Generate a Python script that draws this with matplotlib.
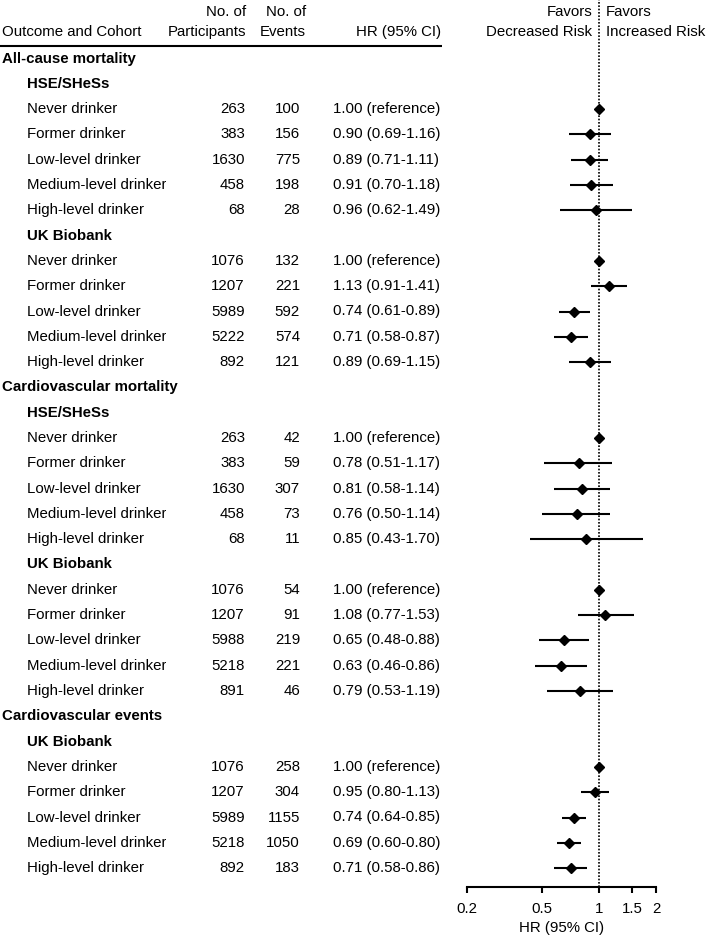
import numpy as np
import matplotlib
matplotlib.use("Agg")
import matplotlib.pyplot as plt
from matplotlib.transforms import Bbox

plt.rcParams["font.family"] = ["Liberation Sans", "DejaVu Sans"]

# rows: (label, kind) kind: 0 = outcome heading, 1 = cohort heading, 2 = data row
labels = ["All-cause mortality", "HSE/SHeSs",
          "Never drinker", "Former drinker", "Low-level drinker", "Medium-level drinker", "High-level drinker",
          "UK Biobank",
          "Never drinker", "Former drinker", "Low-level drinker", "Medium-level drinker", "High-level drinker",
          "Cardiovascular mortality", "HSE/SHeSs",
          "Never drinker", "Former drinker", "Low-level drinker", "Medium-level drinker", "High-level drinker",
          "UK Biobank",
          "Never drinker", "Former drinker", "Low-level drinker", "Medium-level drinker", "High-level drinker",
          "Cardiovascular events", "UK Biobank",
          "Never drinker", "Former drinker", "Low-level drinker", "Medium-level drinker", "High-level drinker"]
kinds = [0, 1, 2, 2, 2, 2, 2, 1, 2, 2, 2, 2, 2,
         0, 1, 2, 2, 2, 2, 2, 1, 2, 2, 2, 2, 2,
         0, 1, 2, 2, 2, 2, 2]

participants = [263, 383, 1630, 458, 68, 1076, 1207, 5989, 5222, 892,
                263, 383, 1630, 458, 68, 1076, 1207, 5988, 5218, 891,
                1076, 1207, 5989, 5218, 892]
events = [100, 156, 775, 198, 28, 132, 221, 592, 574, 121,
          42, 59, 307, 73, 11, 54, 91, 219, 221, 46,
          258, 304, 1155, 1050, 183]
hr = [1.00, 0.90, 0.89, 0.91, 0.96, 1.00, 1.13, 0.74, 0.71, 0.89,
      1.00, 0.78, 0.81, 0.76, 0.85, 1.00, 1.08, 0.65, 0.63, 0.79,
      1.00, 0.95, 0.74, 0.69, 0.71]
lo = [None, 0.69, 0.71, 0.70, 0.62, None, 0.91, 0.61, 0.58, 0.69,
      None, 0.51, 0.58, 0.50, 0.43, None, 0.77, 0.48, 0.46, 0.53,
      None, 0.80, 0.64, 0.60, 0.58]
hi = [None, 1.16, 1.11, 1.18, 1.49, None, 1.41, 0.89, 0.87, 1.15,
      None, 1.17, 1.14, 1.14, 1.70, None, 1.53, 0.88, 0.86, 1.19,
      None, 1.13, 0.85, 0.80, 0.86]

xticks = [0.2, 0.5, 1, 1.5, 2]

W, H = 709, 942
fig = plt.figure(figsize=(W / 100, H / 100), dpi=100)
fs = 10.8

# text layer in pixel coordinates
ax_t = fig.add_axes([0, 0, 1, 1])
ax_t.set_xlim(0, W)
ax_t.set_ylim(H, 0)
ax_t.axis("off")

y0, dy = 58.5, 25.3
axis_y = 887

# header
ax_t.text(2, 32, "Outcome and Cohort", fontsize=fs, va="center", ha="left")
ax_t.text(246, 12, "No. of", fontsize=fs, va="center", ha="right")
ax_t.text(246, 32, "Participants", fontsize=fs, va="center", ha="right")
ax_t.text(306, 12, "No. of", fontsize=fs, va="center", ha="right")
ax_t.text(306, 32, "Events", fontsize=fs, va="center", ha="right")
ax_t.text(441, 32, "HR (95% CI)", fontsize=fs, va="center", ha="right")
ax_t.text(592, 12, "Favors", fontsize=fs, va="center", ha="right")
ax_t.text(592, 32, "Decreased Risk", fontsize=fs, va="center", ha="right")
ax_t.text(606, 12, "Favors", fontsize=fs, va="center", ha="left")
ax_t.text(606, 32, "Increased Risk", fontsize=fs, va="center", ha="left")
ax_t.plot([0, 442], [45.5, 45.5], color="black", lw=1.5, solid_capstyle="butt")

# label column is cut off like in the source table (display pixels)
clip = Bbox([[0, 0], [166, H]])

# forest axes
ax = fig.add_axes([467 / W, (H - axis_y) / H, (656 - 467) / W, axis_y / H])
ax.set_xscale("log")
ax.set_xlim(0.2, 2)
ax.set_ylim(axis_y, 0)

k = 0
for i, (lab, kind) in enumerate(zip(labels, kinds)):
    y = y0 + dy * i
    if kind == 0:
        ax_t.text(2, y, lab, fontsize=fs, fontweight="bold", va="center", ha="left")
        continue
    if kind == 1:
        ax_t.text(27, y, lab, fontsize=fs, fontweight="bold", va="center", ha="left")
        continue
    t = ax_t.text(27, y, lab, fontsize=fs, va="center", ha="left")
    t.set_clip_path(None)
    t.set_clip_box(clip)
    t.set_clip_on(True)
    ax_t.text(245, y, str(participants[k]), fontsize=fs, va="center", ha="right")
    ax_t.text(300, y, str(events[k]), fontsize=fs, va="center", ha="right")
    if lo[k] is None:
        s = "%.2f (reference)" % hr[k]
    else:
        s = "%.2f (%.2f-%.2f)" % (hr[k], lo[k], hi[k])
        ax.plot([lo[k], hi[k]], [y, y], color="black", lw=1.5, solid_capstyle="butt")
    ax_t.text(333, y, s, fontsize=fs, va="center", ha="left")
    ax.plot(hr[k], y, marker="D", color="black", markersize=5)
    k += 1

ax.axvline(1, color="black", lw=1.2, linestyle=(0, (1, 1)))
for sp in ["top", "left", "right"]:
    ax.spines[sp].set_visible(False)
ax.spines["bottom"].set_linewidth(1.5)
ax.set_yticks([])
ax.set_xticks(xticks)
ax.set_xticklabels(["0.2", "0.5", "1", "1.5", "2"])
ax.minorticks_off()
ax.tick_params(axis="x", direction="out", length=4.5, width=1.5, labelsize=fs, pad=6)
ax.set_xlabel("HR (95% CI)", fontsize=fs, labelpad=4)
ax.patch.set_alpha(0)

fig.savefig("out.png", dpi=100)
